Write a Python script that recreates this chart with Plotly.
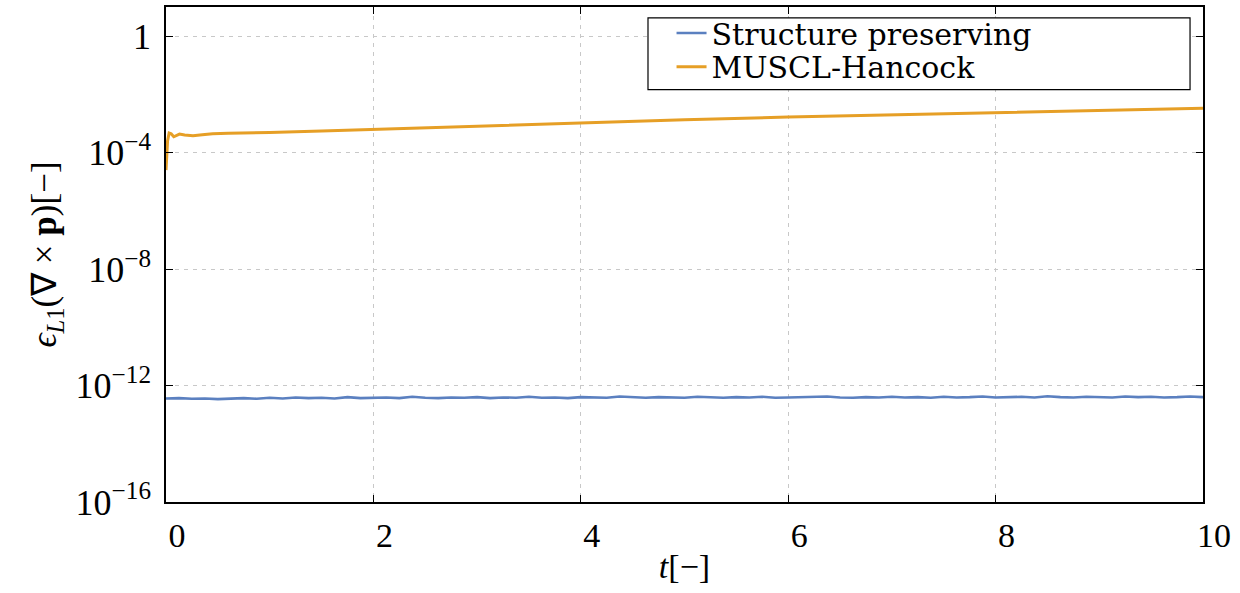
import numpy as np
import plotly.graph_objects as go

# ---- data ----
t_muscl = [0, 0.005, 0.015, 0.03, 0.05, 0.075, 0.1, 0.13, 0.18, 0.26, 0.35, 0.45,
           0.6, 0.8, 1.0, 1.5, 2, 3, 4, 5, 6, 7, 8, 9, 10]
e_muscl = [2.5e-5, 6.3e-5, 2.5e-4, 4.7e-4, 4.4e-4, 3.5e-4, 3.9e-4, 4.3e-4, 4.0e-4,
           3.8e-4, 4.1e-4, 4.4e-4, 4.6e-4, 4.7e-4, 4.9e-4, 5.5e-4, 6.3e-4, 8.3e-4,
           1.07e-3, 1.35e-3, 1.66e-3, 2.0e-3, 2.4e-3, 2.8e-3, 3.3e-3]

e_sp_scaled = [3.6, 3.7, 3.5, 3.6, 3.4, 3.6, 3.7, 3.5, 3.8, 3.6, 3.9, 3.7, 3.8, 3.6, 4.0, 3.7,
               3.8, 3.9, 3.7, 4.1, 3.8, 3.7, 3.9, 3.8, 4.0, 3.7, 3.9, 3.8, 4.1, 3.8, 3.9, 3.7,
               4.0, 3.9, 3.8, 4.2, 3.9, 3.8, 4.0, 3.9, 3.8, 4.1, 3.9, 3.8, 4.0, 3.9, 4.1, 3.8,
               3.9, 4.0, 3.9, 4.2, 3.9, 3.8, 4.0, 3.9, 4.1, 3.9, 4.0, 3.8, 4.1, 3.9, 4.0, 4.2,
               3.9, 4.0, 4.1, 3.9, 4.3, 4.0, 3.9, 4.1, 4.0, 3.9, 4.2, 4.0, 4.1, 3.9, 4.0, 4.2, 4.0]
e_sp = [v * 1e-13 for v in e_sp_scaled]
t_sp = np.linspace(0, 10, len(e_sp))

x_ticks = [0, 2, 4, 6, 8, 10]
y_ticks = [1e-16, 1e-12, 1e-8, 1e-4, 1]
y_ticktext = ["10<sup>\u221216</sup>", "10<sup>\u221212</sup>", "10<sup>\u22128</sup>",
              "10<sup>\u22124</sup>", "1"]

series_names = ["Structure preserving", "MUSCL-Hancock"]
colors = ["#5B80C0", "#E69F26"]

FONT = "Liberation Serif"
LEG_FONT = "DejaVu Serif"

fig = go.Figure()
fig.add_trace(go.Scatter(x=t_sp, y=e_sp, mode="lines", name=series_names[0],
                         line=dict(color=colors[0], width=2.6), legend="legend"))
fig.add_trace(go.Scatter(x=t_muscl, y=e_muscl, mode="lines", name=series_names[1],
                         line=dict(color=colors[1], width=3), legend="legend2"))

axis_common = dict(
    showline=True, linecolor="black", linewidth=1.6, mirror="ticks",
    ticks="inside", ticklen=7, tickcolor="black", tickwidth=1.2,
    showgrid=True, gridcolor="#c8c8c8", gridwidth=1, griddash="4px,5px",
    zeroline=False,
    tickfont=dict(family=FONT, size=34, color="black"),
)

fig.update_xaxes(
    range=[0, 10], tickvals=x_ticks, ticktext=[str(v) for v in x_ticks],
    ticklabelshift=11, ticklabelstandoff=2,
    title=dict(text="<i>t</i>[\u2212]", font=dict(family=FONT, size=34, color="black"),
               standoff=2),
    **axis_common,
)
fig.update_yaxes(
    type="log", range=[-16, 1], tickvals=y_ticks, ticktext=y_ticktext,
    ticklabelstandoff=6,
    tickfont=dict(family=FONT, size=36, color="black"),
    title=dict(text="<i>\u03f5</i><sub><i>L</i>1</sub>(\u2207 \u00d7 <b>p</b>)[\u2212]",
               font=dict(family=FONT, size=35, color="black"), standoff=8),
    **{k: v for k, v in axis_common.items() if k != "tickfont"},
)

# legend frame (pgfplots-style fixed box in the upper right of the axes)
fig.add_shape(type="rect", xref="paper", yref="paper",
              x0=0.4648, x1=0.9875, y0=0.833, y1=0.978,
              fillcolor="white", line=dict(color="black", width=1.2), layer="above")

leg_common = dict(xanchor="left", yanchor="top", bgcolor="rgba(0,0,0,0)", borderwidth=0,
                  font=dict(family=LEG_FONT, size=30, color="black"),
                  tracegroupgap=0, itemwidth=30)

fig.update_layout(
    width=1240, height=593,
    margin=dict(l=166, r=37, t=5, b=91),
    paper_bgcolor="white", plot_bgcolor="white",
    showlegend=True,
    legend=dict(x=0.4875, y=1.0, **leg_common),
    legend2=dict(x=0.4875, y=0.932, **leg_common),
)

fig.write_html("out.html")
